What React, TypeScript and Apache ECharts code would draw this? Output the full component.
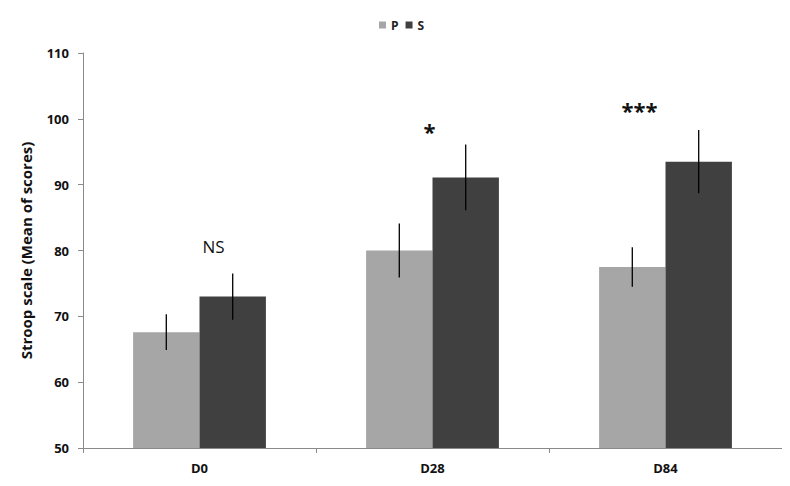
import React, { useEffect, useRef } from "react";
import * as echarts from "echarts";

const categories = ["D0", "D28", "D84"];
const seriesNames = ["P", "S"];
const pValues = [67.6, 80.0, 77.5];
const sValues = [73.0, 91.1, 93.5];
const pErrors = [2.7, 4.1, 3.0];
const sErrors = [3.5, 5.0, 4.8];
const annotations = ["NS", "*", "***"];
const annotationValues = [80.6, 98.2, 101.3];
const annotationOffsets = [14, -3, -26];
const yTicks = { min: 50, max: 110, interval: 10 };

const FONT = "'Open Sans', Lato, sans-serif";
const P_COLOR = "#a6a6a6";
const S_COLOR = "#404040";
const CAT_GAP = 0.43;

export default function App() {
  const ref = useRef<HTMLDivElement>(null);
  useEffect(() => {
    if (!ref.current) return;
    const chart = echarts.init(ref.current, null, { renderer: "svg" });

    const errData = (vals: number[], errs: number[], side: number) =>
      vals.map((v, i) => [i, v, errs[i], side]);

    const errSeries = (name: string, data: any[]) => ({
      type: "custom",
      name: name + " err",
      data,
      z: 5,
      silent: true,
      renderItem: (params: any, api: any) => {
        const i = api.value(0);
        const v = api.value(1);
        const e = api.value(2);
        const side = api.value(3);
        const band = api.size([1, 0])[0];
        const barW = (band * (1 - CAT_GAP)) / 2;
        const top = api.coord([i, v + e]);
        const bot = api.coord([i, v - e]);
        const x = top[0] + side * (barW / 2);
        return {
          type: "line",
          shape: { x1: x, y1: top[1], x2: x, y2: bot[1] },
          style: { stroke: "#000", lineWidth: 1.3 },
        };
      },
    });

    chart.setOption({
      animation: false,
      backgroundColor: "#fff",
      textStyle: { fontFamily: FONT },
      legend: {
        data: seriesNames,
        top: 6,
        left: 366,
        itemWidth: 7,
        itemHeight: 7,
        itemGap: 7,
        icon: "rect",
        textStyle: { fontFamily: FONT, fontWeight: "bold", fontSize: 12, color: "#222" },
      },
      grid: { left: 75, right: 8, top: 45, bottom: 38, containLabel: false },
      xAxis: {
        type: "category",
        data: categories,
        axisLine: { lineStyle: { color: "#8a8a8a", width: 1 } },
        axisTick: { show: true, alignWithLabel: false, length: 5, lineStyle: { color: "#8a8a8a" } },
        axisLabel: { fontFamily: FONT, fontWeight: "bold", fontSize: 13, color: "#111", margin: 13 },
      },
      yAxis: {
        type: "value",
        min: yTicks.min,
        max: yTicks.max,
        interval: yTicks.interval,
        name: "Stroop scale (Mean of scores)",
        nameLocation: "middle",
        nameGap: 50,
        nameTextStyle: { fontFamily: FONT, fontWeight: "bold", fontSize: 15, color: "#111" },
        axisLine: { show: true, lineStyle: { color: "#8a8a8a", width: 1 } },
        axisTick: { show: true, length: 5, lineStyle: { color: "#8a8a8a" } },
        splitLine: { show: false },
        axisLabel: { fontFamily: FONT, fontWeight: "bold", fontSize: 13, color: "#111", margin: 14 },
      },
      series: [
        {
          type: "bar",
          name: "P",
          data: pValues,
          barGap: "0%",
          barCategoryGap: CAT_GAP * 100 + "%",
          itemStyle: { color: P_COLOR },
        },
        {
          type: "bar",
          name: "S",
          data: sValues,
          barGap: "0%",
          barCategoryGap: CAT_GAP * 100 + "%",
          itemStyle: { color: S_COLOR },
        },
        errSeries("P", errData(pValues, pErrors, -1)),
        errSeries("S", errData(sValues, sErrors, 1)),
        {
          type: "custom",
          name: "annotations",
          data: annotations.map((a, i) => [i, annotationValues[i], annotationOffsets[i]]),
          z: 6,
          silent: true,
          renderItem: (params: any, api: any) => {
            const i = api.value(0);
            const p = api.coord([i, api.value(1)]);
            const text = annotations[i];
            const isStar = text.indexOf("*") >= 0;
            return {
              type: "text",
              x: p[0] + api.value(2),
              y: p[1],
              style: {
                text,
                x: 0,
                y: 0,
                align: "center",
                verticalAlign: "middle",
                fontFamily: FONT,
                fontSize: isStar ? 22 : 17,
                fontWeight: isStar ? "bold" : "normal",
                fill: "#111",
              },
            };
          },
        },
      ],
    });
    return () => chart.dispose();
  }, []);
  return <div ref={ref} style={{ width: 782, height: 478 }} />;
}
